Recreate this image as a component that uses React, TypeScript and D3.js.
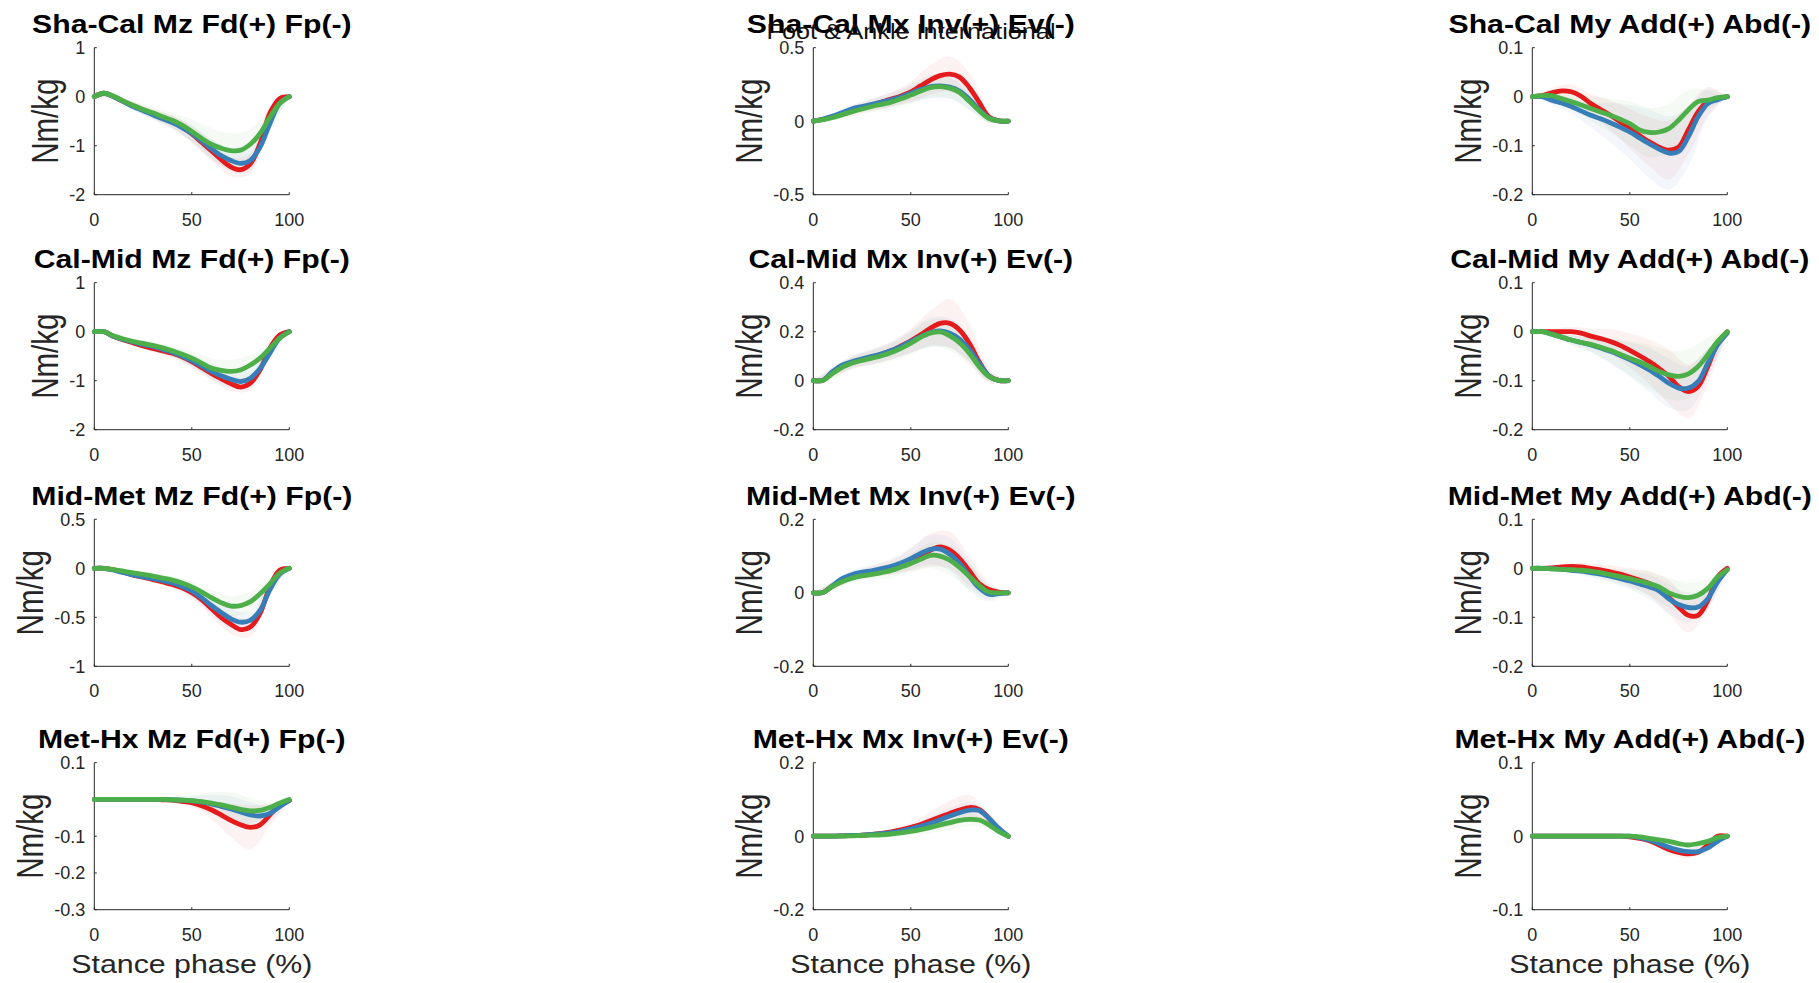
import React from 'react';
import * as d3 from 'd3';

// ---------- grids ----------
const X_GRID = [0, 5, 10, 15, 20, 25, 30, 35, 40, 45, 50, 55, 60, 65, 70, 75, 80, 85, 90, 95, 100];
const SD_GRID = [0, 10, 20, 30, 40, 50, 60, 70, 80, 90, 100];
const X_TICKS = [0, 50, 100];

const ROW_NAMES = ['Sha-Cal', 'Cal-Mid', 'Mid-Met', 'Met-Hx'];
const COL_NAMES = ['Mz Fd(+) Fp(-)', 'Mx Inv(+) Ev(-)', 'My Add(+) Abd(-)'];
const SERIES_COLORS = ['#e41a1c', '#377eb8', '#4daf4a'];
const Y_LABEL = 'Nm/kg';
const X_LABEL = 'Stance phase (%)';
const JOURNAL = 'Foot & Ankle International';

// ---------- means (x = 0..100 step 5) ----------
const shaCalMz_red = [0, 0.07, 0.0, -0.1, -0.19, -0.27, -0.35, -0.43, -0.51, -0.62, -0.76, -0.93, -1.1, -1.28, -1.43, -1.49, -1.37, -0.96, -0.34, -0.04, 0];
const shaCalMz_blue = [0, 0.07, 0.0, -0.1, -0.2, -0.28, -0.37, -0.45, -0.53, -0.63, -0.75, -0.9, -1.06, -1.2, -1.3, -1.36, -1.3, -1.03, -0.55, -0.14, 0];
const shaCalMz_green = [0, 0.07, 0.01, -0.09, -0.18, -0.26, -0.33, -0.41, -0.48, -0.58, -0.71, -0.85, -0.97, -1.05, -1.1, -1.09, -0.97, -0.75, -0.42, -0.14, 0];

const shaCalMx_red = [0, 0.012, 0.03, 0.055, 0.075, 0.095, 0.11, 0.13, 0.15, 0.172, 0.2, 0.24, 0.28, 0.31, 0.32, 0.3, 0.23, 0.13, 0.03, 0.002, 0];
const shaCalMx_blue = [0, 0.015, 0.035, 0.06, 0.085, 0.1, 0.115, 0.13, 0.145, 0.165, 0.19, 0.215, 0.235, 0.24, 0.232, 0.205, 0.15, 0.08, 0.022, 0.002, 0];
const shaCalMx_green = [0, 0.01, 0.025, 0.045, 0.065, 0.083, 0.1, 0.115, 0.13, 0.152, 0.178, 0.205, 0.228, 0.235, 0.225, 0.195, 0.135, 0.072, 0.02, 0.002, 0];

const shaCalMy_red = [0, 0.002, 0.008, 0.012, 0.01, 0.001, -0.014, -0.026, -0.038, -0.051, -0.065, -0.079, -0.092, -0.103, -0.109, -0.103, -0.068, -0.031, -0.01, -0.004, 0];
const shaCalMy_blue = [0, 0, -0.007, -0.013, -0.02, -0.029, -0.038, -0.045, -0.053, -0.062, -0.072, -0.084, -0.096, -0.107, -0.115, -0.112, -0.082, -0.041, -0.014, -0.006, 0];
const shaCalMy_green = [0, 0.002, 0.002, -0.004, -0.01, -0.017, -0.024, -0.031, -0.038, -0.046, -0.055, -0.068, -0.073, -0.072, -0.065, -0.048, -0.027, -0.01, -0.007, -0.002, 0];

const calMidMz_red = [0, 0, -0.1, -0.17, -0.23, -0.29, -0.34, -0.39, -0.44, -0.51, -0.61, -0.73, -0.85, -0.96, -1.06, -1.13, -1.05, -0.78, -0.34, -0.07, 0];
const calMidMz_blue = [0, 0, -0.1, -0.16, -0.21, -0.26, -0.3, -0.36, -0.42, -0.5, -0.59, -0.7, -0.81, -0.9, -0.97, -1.02, -0.95, -0.75, -0.44, -0.13, 0];
const calMidMz_green = [0, 0, -0.09, -0.15, -0.2, -0.24, -0.28, -0.33, -0.39, -0.46, -0.54, -0.64, -0.74, -0.79, -0.81, -0.78, -0.68, -0.54, -0.34, -0.13, 0];

const calMidMx_red = [0, 0.002, 0.034, 0.06, 0.075, 0.086, 0.096, 0.108, 0.123, 0.142, 0.163, 0.187, 0.214, 0.234, 0.234, 0.207, 0.153, 0.078, 0.02, 0.001, 0];
const calMidMx_blue = [0, 0.002, 0.038, 0.064, 0.078, 0.089, 0.099, 0.11, 0.123, 0.14, 0.16, 0.18, 0.197, 0.203, 0.194, 0.17, 0.128, 0.071, 0.02, 0.001, 0];
const calMidMx_green = [0, 0.002, 0.03, 0.055, 0.072, 0.083, 0.092, 0.102, 0.115, 0.132, 0.153, 0.177, 0.194, 0.199, 0.183, 0.155, 0.112, 0.058, 0.017, 0.001, 0];

const calMidMy_red = [0, 0, 0, 0, 0, -0.003, -0.009, -0.014, -0.02, -0.028, -0.038, -0.049, -0.061, -0.075, -0.091, -0.112, -0.122, -0.112, -0.071, -0.024, 0];
const calMidMy_blue = [0, 0, -0.005, -0.011, -0.017, -0.022, -0.027, -0.033, -0.04, -0.048, -0.057, -0.067, -0.078, -0.091, -0.105, -0.115, -0.115, -0.102, -0.064, -0.027, -0.003];
const calMidMy_green = [0, 0, -0.005, -0.011, -0.017, -0.022, -0.026, -0.032, -0.038, -0.046, -0.054, -0.062, -0.071, -0.081, -0.088, -0.091, -0.086, -0.071, -0.047, -0.02, 0];

const midMetMz_red = [0, 0, -0.015, -0.04, -0.07, -0.09, -0.115, -0.14, -0.165, -0.2, -0.25, -0.32, -0.41, -0.5, -0.57, -0.625, -0.6, -0.46, -0.19, -0.02, 0];
const midMetMz_blue = [0, 0, -0.02, -0.045, -0.07, -0.088, -0.105, -0.125, -0.15, -0.185, -0.23, -0.3, -0.38, -0.45, -0.515, -0.55, -0.53, -0.43, -0.22, -0.06, 0];
const midMetMz_green = [0, 0, -0.013, -0.03, -0.047, -0.063, -0.08, -0.1, -0.12, -0.15, -0.19, -0.24, -0.3, -0.35, -0.385, -0.38, -0.34, -0.26, -0.16, -0.05, 0];

const midMetMx_red = [0, 0.001, 0.019, 0.035, 0.045, 0.052, 0.058, 0.063, 0.069, 0.078, 0.09, 0.103, 0.116, 0.125, 0.116, 0.093, 0.06, 0.025, 0.009, 0.002, 0];
const midMetMx_blue = [0, 0.001, 0.02, 0.039, 0.05, 0.056, 0.06, 0.066, 0.072, 0.081, 0.093, 0.107, 0.118, 0.119, 0.105, 0.08, 0.045, 0.014, -0.004, -0.002, 0];
const midMetMx_green = [0, 0.001, 0.018, 0.031, 0.04, 0.046, 0.05, 0.055, 0.061, 0.07, 0.08, 0.091, 0.102, 0.1, 0.089, 0.069, 0.045, 0.02, 0.002, 0, 0];

const midMetMy_red = [0, 0, 0.001, 0.003, 0.004, 0.003, 0, -0.003, -0.007, -0.012, -0.018, -0.024, -0.031, -0.041, -0.059, -0.079, -0.096, -0.096, -0.066, -0.018, 0];
const midMetMy_blue = [0, 0, -0.001, -0.002, -0.004, -0.006, -0.009, -0.012, -0.016, -0.021, -0.026, -0.032, -0.038, -0.046, -0.062, -0.074, -0.08, -0.079, -0.062, -0.028, -0.003];
const midMetMy_green = [0, 0, -0.001, -0.002, -0.003, -0.004, -0.006, -0.009, -0.013, -0.017, -0.021, -0.026, -0.031, -0.038, -0.05, -0.057, -0.06, -0.055, -0.041, -0.018, -0.003];

const metHxMz_red = [0, 0, 0, 0, 0, 0, 0, -0.001, -0.002, -0.005, -0.009, -0.017, -0.028, -0.042, -0.057, -0.069, -0.076, -0.069, -0.042, -0.015, -0.003];
const metHxMz_blue = [0, 0, 0, 0, 0, 0, 0, 0, -0.001, -0.002, -0.004, -0.007, -0.012, -0.019, -0.026, -0.034, -0.042, -0.045, -0.038, -0.02, -0.003];
const metHxMz_green = [0, 0, 0, 0, 0, 0, 0, 0, -0.001, -0.002, -0.003, -0.006, -0.01, -0.015, -0.021, -0.027, -0.031, -0.03, -0.022, -0.01, 0];

const metHxMx_red = [0, 0, 0, 0.001, 0.002, 0.003, 0.005, 0.008, 0.012, 0.017, 0.024, 0.032, 0.042, 0.052, 0.062, 0.071, 0.078, 0.073, 0.049, 0.019, 0];
const metHxMx_blue = [0, 0, 0, 0.001, 0.002, 0.003, 0.005, 0.007, 0.01, 0.014, 0.02, 0.027, 0.035, 0.045, 0.055, 0.064, 0.071, 0.07, 0.049, 0.022, 0];
const metHxMx_green = [0, 0, 0, 0, 0.001, 0.002, 0.003, 0.004, 0.006, 0.009, 0.013, 0.018, 0.024, 0.031, 0.037, 0.043, 0.046, 0.044, 0.031, 0.013, 0];

const metHxMy_red = [0, 0, 0, 0, 0, 0, 0, 0, 0, 0, -0.001, -0.003, -0.006, -0.012, -0.018, -0.022, -0.024, -0.022, -0.012, 0, 0];
const metHxMy_blue = [0, 0, 0, 0, 0, 0, 0, 0, 0, 0, 0, -0.002, -0.005, -0.01, -0.015, -0.019, -0.021, -0.021, -0.016, -0.007, 0];
const metHxMy_green = [0, 0, 0, 0, 0, 0, 0, 0, 0, 0, 0, -0.001, -0.003, -0.005, -0.007, -0.01, -0.012, -0.01, -0.007, -0.002, 0];

// ---------- standard deviations (x = 0..100 step 10) ----------
const shaCalMz_redSd = [0, 0.04, 0.08, 0.1, 0.13, 0.16, 0.18, 0.2, 0.2, 0.12, 0.02];
const shaCalMz_blueSd = [0, 0.04, 0.08, 0.1, 0.13, 0.17, 0.2, 0.22, 0.22, 0.15, 0.02];
const shaCalMz_greenSd = [0, 0.04, 0.08, 0.12, 0.16, 0.25, 0.33, 0.35, 0.32, 0.2, 0.02];
const shaCalMx_redSd = [0, 0.02, 0.03, 0.04, 0.05, 0.07, 0.1, 0.12, 0.1, 0.04, 0];
const shaCalMx_blueSd = [0, 0.02, 0.03, 0.04, 0.05, 0.06, 0.08, 0.08, 0.07, 0.03, 0];
const shaCalMx_greenSd = [0, 0.02, 0.03, 0.04, 0.05, 0.06, 0.07, 0.07, 0.06, 0.03, 0];
const shaCalMy_redSd = [0, 0.01, 0.015, 0.02, 0.03, 0.04, 0.05, 0.06, 0.05, 0.03, 0];
const shaCalMy_blueSd = [0, 0.01, 0.015, 0.025, 0.04, 0.055, 0.07, 0.075, 0.06, 0.03, 0];
const shaCalMy_greenSd = [0, 0.01, 0.015, 0.025, 0.035, 0.045, 0.05, 0.05, 0.04, 0.02, 0];
const calMidMz_redSd = [0, 0.03, 0.05, 0.07, 0.09, 0.12, 0.14, 0.15, 0.14, 0.1, 0.02];
const calMidMz_blueSd = [0, 0.03, 0.05, 0.07, 0.1, 0.13, 0.16, 0.18, 0.16, 0.1, 0.02];
const calMidMz_greenSd = [0, 0.03, 0.05, 0.07, 0.1, 0.15, 0.2, 0.24, 0.2, 0.12, 0.02];
const calMidMx_redSd = [0, 0.02, 0.025, 0.03, 0.035, 0.05, 0.07, 0.1, 0.08, 0.03, 0];
const calMidMx_blueSd = [0, 0.02, 0.025, 0.03, 0.035, 0.045, 0.06, 0.06, 0.05, 0.02, 0];
const calMidMx_greenSd = [0, 0.02, 0.025, 0.03, 0.035, 0.045, 0.055, 0.06, 0.05, 0.02, 0];
const calMidMy_redSd = [0, 0.005, 0.01, 0.015, 0.025, 0.035, 0.045, 0.055, 0.055, 0.035, 0.005];
const calMidMy_blueSd = [0, 0.005, 0.01, 0.015, 0.025, 0.035, 0.045, 0.05, 0.045, 0.03, 0.005];
const calMidMy_greenSd = [0, 0.005, 0.01, 0.015, 0.025, 0.035, 0.045, 0.05, 0.05, 0.035, 0.005];
const midMetMz_redSd = [0, 0.01, 0.02, 0.03, 0.04, 0.06, 0.08, 0.1, 0.1, 0.06, 0.01];
const midMetMz_blueSd = [0, 0.01, 0.02, 0.03, 0.04, 0.06, 0.09, 0.1, 0.09, 0.06, 0.01];
const midMetMz_greenSd = [0, 0.01, 0.02, 0.03, 0.04, 0.06, 0.08, 0.1, 0.1, 0.06, 0.01];
const midMetMx_redSd = [0, 0.01, 0.012, 0.015, 0.02, 0.03, 0.045, 0.05, 0.04, 0.02, 0];
const midMetMx_blueSd = [0, 0.01, 0.012, 0.015, 0.02, 0.03, 0.04, 0.045, 0.04, 0.02, 0];
const midMetMx_greenSd = [0, 0.01, 0.012, 0.015, 0.02, 0.025, 0.035, 0.04, 0.035, 0.02, 0];
const midMetMy_redSd = [0, 0.003, 0.006, 0.01, 0.013, 0.018, 0.025, 0.035, 0.035, 0.02, 0.003];
const midMetMy_blueSd = [0, 0.003, 0.006, 0.01, 0.013, 0.018, 0.025, 0.03, 0.03, 0.02, 0.003];
const midMetMy_greenSd = [0, 0.003, 0.006, 0.01, 0.013, 0.018, 0.025, 0.03, 0.03, 0.02, 0.003];
const metHxMz_redSd = [0, 0, 0, 0.002, 0.005, 0.01, 0.025, 0.045, 0.06, 0.03, 0.003];
const metHxMz_blueSd = [0, 0, 0, 0.002, 0.006, 0.012, 0.025, 0.035, 0.035, 0.02, 0.003];
const metHxMz_greenSd = [0, 0, 0, 0.003, 0.008, 0.015, 0.03, 0.04, 0.035, 0.015, 0.003];
const metHxMx_redSd = [0, 0, 0.002, 0.004, 0.006, 0.012, 0.025, 0.035, 0.035, 0.015, 0];
const metHxMx_blueSd = [0, 0, 0.002, 0.004, 0.006, 0.01, 0.018, 0.022, 0.022, 0.012, 0];
const metHxMx_greenSd = [0, 0, 0.002, 0.004, 0.006, 0.01, 0.015, 0.02, 0.018, 0.01, 0];
const metHxMy_redSd = [0, 0, 0, 0, 0.001, 0.002, 0.004, 0.006, 0.006, 0.004, 0];
const metHxMy_blueSd = [0, 0, 0, 0, 0.001, 0.002, 0.004, 0.006, 0.006, 0.004, 0];
const metHxMy_greenSd = [0, 0, 0, 0, 0.001, 0.002, 0.003, 0.004, 0.004, 0.003, 0];

// ---------- axis ranges and ticks per panel (row-major) ----------
const Y_DOMAINS = [
  [-2, 1], [-0.5, 0.5], [-0.2, 0.1],
  [-2, 1], [-0.2, 0.4], [-0.2, 0.1],
  [-1, 0.5], [-0.2, 0.2], [-0.2, 0.1],
  [-0.3, 0.1], [-0.2, 0.2], [-0.1, 0.1],
];
const Y_TICKS = [
  [-2, -1, 0, 1], [-0.5, 0, 0.5], [-0.2, -0.1, 0, 0.1],
  [-2, -1, 0, 1], [-0.2, 0, 0.2, 0.4], [-0.2, -0.1, 0, 0.1],
  [-1, -0.5, 0, 0.5], [-0.2, 0, 0.2], [-0.2, -0.1, 0, 0.1],
  [-0.3, -0.2, -0.1, 0.1], [-0.2, 0, 0.2], [-0.1, 0, 0.1],
];

const MEANS = [
  [shaCalMz_red, shaCalMz_blue, shaCalMz_green], [shaCalMx_red, shaCalMx_blue, shaCalMx_green], [shaCalMy_red, shaCalMy_blue, shaCalMy_green],
  [calMidMz_red, calMidMz_blue, calMidMz_green], [calMidMx_red, calMidMx_blue, calMidMx_green], [calMidMy_red, calMidMy_blue, calMidMy_green],
  [midMetMz_red, midMetMz_blue, midMetMz_green], [midMetMx_red, midMetMx_blue, midMetMx_green], [midMetMy_red, midMetMy_blue, midMetMy_green],
  [metHxMz_red, metHxMz_blue, metHxMz_green], [metHxMx_red, metHxMx_blue, metHxMx_green], [metHxMy_red, metHxMy_blue, metHxMy_green],
];
const SDS = [
  [shaCalMz_redSd, shaCalMz_blueSd, shaCalMz_greenSd], [shaCalMx_redSd, shaCalMx_blueSd, shaCalMx_greenSd], [shaCalMy_redSd, shaCalMy_blueSd, shaCalMy_greenSd],
  [calMidMz_redSd, calMidMz_blueSd, calMidMz_greenSd], [calMidMx_redSd, calMidMx_blueSd, calMidMx_greenSd], [calMidMy_redSd, calMidMy_blueSd, calMidMy_greenSd],
  [midMetMz_redSd, midMetMz_blueSd, midMetMz_greenSd], [midMetMx_redSd, midMetMx_blueSd, midMetMx_greenSd], [midMetMy_redSd, midMetMy_blueSd, midMetMy_greenSd],
  [metHxMz_redSd, metHxMz_blueSd, metHxMz_greenSd], [metHxMx_redSd, metHxMx_blueSd, metHxMx_greenSd], [metHxMy_redSd, metHxMy_blueSd, metHxMy_greenSd],
];

// ---------- layout ----------
const W = 1819;
const H = 983;
const COL_X = [94.3, 813.3, 1532.3];
const ROW_Y = [47.7, 282.7, 519.3, 762.7];
const PLOT_W = 195;
const PLOT_H = 147;
const FONT = '"Liberation Sans", Arial, Helvetica, sans-serif';
const AXIS_COLOR = '#262626';
const TICK_FS = 18;
const TITLE_FS = 25.6;
const TITLE_SX = 1.18;
const LABEL_FS = 29.5;
const LABEL_SX = 1.25;
const XLABEL_FS = 25.5;
const XLABEL_SX = 1.19;

const CHAR_W: Record<string, number> = { '-': 0.333, '.': 0.278 };
const textW = (s: string, fs: number) =>
  s.split('').reduce((a, c) => a + (CHAR_W[c] ?? 0.556), 0) * fs;

const fmt = (v: number) => String(v);

function Panel({ idx }: { idx: number }) {
  const r = Math.floor(idx / 3);
  const c = idx % 3;
  const x0 = COL_X[c];
  const y0 = ROW_Y[r];
  const x = d3.scaleLinear().domain([0, 100]).range([x0, x0 + PLOT_W]);
  const y = d3.scaleLinear().domain(Y_DOMAINS[idx]).range([y0 + PLOT_H, y0]);
  const means = MEANS[idx];
  const sds = SDS[idx];
  const curve = d3.curveCatmullRom.alpha(0.5);

  const lineGen = d3
    .line<number>()
    .x((_, i) => x(X_GRID[i]))
    .y((d) => y(d))
    .curve(curve);

  const bands = sds.map((sd, s) =>
    d3
      .area<number>()
      .x((_, i) => x(SD_GRID[i]))
      .y0((d, i) => y(means[s][i * 2] - d))
      .y1((d, i) => y(means[s][i * 2] + d))
      .curve(curve)(sd)
  );

  const ticks = Y_TICKS[idx];
  const maxTickW = Math.max(...ticks.map((t) => textW(fmt(t), TICK_FS)));
  const yLabelX = x0 - 9 - maxTickW - 11;
  const yMid = y0 + PLOT_H / 2;
  const xMid = x0 + PLOT_W / 2;
  const yBottom = y0 + PLOT_H;

  return (
    <g>
      {bands.map((d, s) => (
        <path key={'b' + s} d={d || ''} fill={SERIES_COLORS[s]} fillOpacity={0.06} stroke="none" />
      ))}
      {/* axes */}
      <line x1={x0} x2={x0 + PLOT_W} y1={yBottom} y2={yBottom} stroke={AXIS_COLOR} strokeWidth={1} />
      <line x1={x0} x2={x0} y1={y0} y2={yBottom} stroke={AXIS_COLOR} strokeWidth={1} />
      {X_TICKS.map((t) => (
        <g key={'xt' + t}>
          <line x1={x(t)} x2={x(t)} y1={yBottom} y2={yBottom - 2.5} stroke={AXIS_COLOR} strokeWidth={1} />
          <text x={x(t)} y={yBottom + 31} fontSize={TICK_FS} fill={AXIS_COLOR} textAnchor="middle" fontFamily={FONT}>
            {fmt(t)}
          </text>
        </g>
      ))}
      {ticks.map((t) => (
        <g key={'yt' + t}>
          <line x1={x0} x2={x0 + 2.5} y1={y(t)} y2={y(t)} stroke={AXIS_COLOR} strokeWidth={1} />
          <text x={x0 - 9} y={y(t)} dy="0.36em" fontSize={TICK_FS} fill={AXIS_COLOR} textAnchor="end" fontFamily={FONT}>
            {fmt(t)}
          </text>
        </g>
      ))}
      {means.map((m, s) => (
        <path key={'l' + s} d={lineGen(m) || ''} fill="none" stroke={SERIES_COLORS[s]} strokeWidth={4.8} strokeLinejoin="round" strokeLinecap="round" />
      ))}
      {/* y label */}
      <text
        transform={`translate(${yLabelX},${yMid}) scale(${LABEL_SX},1) rotate(-90)`}
        fontSize={LABEL_FS}
        fill={AXIS_COLOR}
        textAnchor="middle"
        fontFamily={FONT}
      >
        {Y_LABEL}
      </text>
      {/* title */}
      <text
        transform={`translate(${xMid},${y0 - 14.5}) scale(${TITLE_SX},1)`}
        fontSize={TITLE_FS}
        fontWeight="bold"
        fill="#000"
        textAnchor="middle"
        fontFamily={FONT}
      >
        {`${ROW_NAMES[r]} ${COL_NAMES[c]}`}
      </text>
      {r === ROW_NAMES.length - 1 && (
        <text
          transform={`translate(${xMid},${yBottom + 63}) scale(${XLABEL_SX},1)`}
          fontSize={XLABEL_FS}
          fill={AXIS_COLOR}
          textAnchor="middle"
          fontFamily={FONT}
        >
          {X_LABEL}
        </text>
      )}
    </g>
  );
}

export default function App() {
  const panels = d3.range(ROW_NAMES.length * COL_NAMES.length);
  return (
    <svg
      width={W}
      height={H}
      viewBox={`0 0 ${W} ${H}`}
      style={{ position: 'absolute', left: 0, top: 0, background: '#fff' }}
    >
      <rect x={0} y={0} width={W} height={H} fill="#fff" />
      {panels.map((i) => (
        <Panel key={i} idx={i} />
      ))}
      <text
        transform={`translate(911,39) scale(1.18,1)`}
        fontSize={21.4}
        fill="#111"
        textAnchor="middle"
        fontFamily={FONT}
      >
        {JOURNAL}
      </text>
    </svg>
  );
}
